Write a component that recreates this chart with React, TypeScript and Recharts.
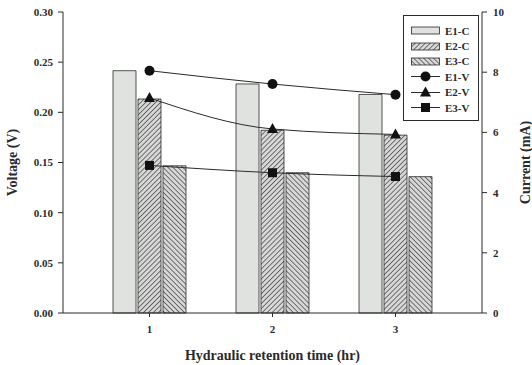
import React from "react";
import { ComposedChart, Bar, Line, XAxis, YAxis, Legend } from "recharts";

const hrt = [1, 2, 3];
const e1Current = [8.05, 7.61, 7.26];
const e2Current = [7.11, 6.07, 5.91];
const e3Current = [4.89, 4.66, 4.53];
const e1Voltage = [0.2415, 0.2282, 0.2176];
const e2Voltage = [0.2143, 0.1834, 0.178];
const e3Voltage = [0.1471, 0.1398, 0.136];
const voltageTicks = [0, 0.05, 0.1, 0.15, 0.2, 0.25, 0.3];
const currentTicks = [0, 2, 4, 6, 8, 10];
const legendLabels = ["E1-C", "E2-C", "E3-C", "E1-V", "E2-V", "E3-V"];

const data = hrt.map((h, i) => ({
  hrt: h,
  e1c: e1Current[i],
  e2c: e2Current[i],
  e3c: e3Current[i],
  e1v: e1Voltage[i],
  e2v: e2Voltage[i],
  e3v: e3Voltage[i],
}));

const FONT = "'Liberation Serif', 'Times New Roman', serif";
const INK = "#2a2a2a";
const LIGHT = "#dfe2df";

const Patterns = ({ prefix }: { prefix: string }) => (
  <defs>
    <pattern id={prefix + "fwd"} patternUnits="userSpaceOnUse" width="3.5" height="3.5" patternTransform="rotate(45)">
      <rect width="3.5" height="3.5" fill="#d8d8d8" />
      <line x1="0" y1="0" x2="0" y2="3.5" stroke="#333" strokeWidth="1.3" />
    </pattern>
    <pattern id={prefix + "back"} patternUnits="userSpaceOnUse" width="3.5" height="3.5" patternTransform="rotate(-45)">
      <rect width="3.5" height="3.5" fill="#d8d8d8" />
      <line x1="0" y1="0" x2="0" y2="3.5" stroke="#333" strokeWidth="1.3" />
    </pattern>
  </defs>
);

const Marker = ({ kind, cx, cy }: { kind: string; cx: number; cy: number }) => {
  if (kind === "circle") return <circle cx={cx} cy={cy} r={5} fill="#111" />;
  if (kind === "triangle")
    return <path d={`M${cx},${cy - 6} L${cx + 5.5},${cy + 4} L${cx - 5.5},${cy + 4} Z`} fill="#111" />;
  return <rect x={cx - 4.5} y={cy - 4.5} width={9} height={9} fill="#111" />;
};

const makeDot = (kind: string) => (props: any) => {
  const { cx, cy, index } = props;
  if (cx == null || cy == null) return <g key={index} />;
  return <Marker key={index} kind={kind} cx={cx} cy={cy} />;
};

const swatchFills = [LIGHT, "url(#lgfwd)", "url(#lgback)"];
const markerKinds = ["circle", "triangle", "square"];

const LegendBox = () => (
  <div
    style={{
      border: `1px solid ${INK}`,
      background: "#fff",
      width: 74,
      padding: "7px 0 5px 0",
      fontFamily: FONT,
      fontWeight: "bold",
      fontSize: 11,
      color: INK,
      boxSizing: "content-box",
    }}
  >
    {legendLabels.map((label, i) => (
      <div key={label} style={{ display: "flex", alignItems: "center", height: 15.4 }}>
        <svg width={40} height={15} style={{ display: "block" }}>
          <Patterns prefix="lg" />
          {i < 3 ? (
            <rect x={7.5} y={4} width={28} height={7} fill={swatchFills[i]} stroke={INK} strokeWidth={0.8} />
          ) : (
            <>
              <line x1={7} x2={36} y1={7.5} y2={7.5} stroke={INK} strokeWidth={1} />
              <Marker kind={markerKinds[i - 3]} cx={21.5} cy={7.5} />
            </>
          )}
        </svg>
        <span style={{ marginLeft: 1 }}>{label}</span>
      </div>
    ))}
  </div>
);

const tickStyle = { fontFamily: FONT, fontWeight: "bold", fontSize: 11, fill: INK };
const titleStyle = { fontFamily: FONT, fontWeight: "bold", fontSize: 14, fill: INK, textAnchor: "middle" as const };

export default function App() {
  return (
    <div style={{ position: "absolute", left: 0, top: 0, background: "#fff" }}>
      <ComposedChart
        width={532}
        height={365}
        data={data}
        margin={{ top: 12, right: 0, left: 0, bottom: 0 }}
        barSize={23}
        barGap={2}
      >
        <Patterns prefix="ch" />
        <XAxis
          dataKey="hrt"
          type="category"
          height={52}
          padding={{ left: 25, right: 25 }}
          stroke={INK}
          tickSize={4}
          tickMargin={8}
          tick={tickStyle}
          label={{ value: "Hydraulic retention time (hr)", position: "insideBottom", offset: 5, style: titleStyle }}
        />
        <XAxis
          xAxisId="top"
          dataKey="hrt"
          orientation="top"
          height={0}
          tick={false}
          tickLine={false}
          stroke={INK}
        />
        <YAxis
          yAxisId="left"
          width={63}
          domain={[0, 0.3]}
          ticks={voltageTicks}
          tickFormatter={(v: number) => v.toFixed(2)}
          stroke={INK}
          tickSize={5}
          tickMargin={5}
          tick={tickStyle}
          interval={0}
          label={{ value: "Voltage (V)", angle: -90, position: "insideLeft", offset: 12, style: titleStyle }}
        />
        <YAxis
          yAxisId="right"
          orientation="right"
          width={50}
          domain={[0, 10]}
          ticks={currentTicks}
          stroke={INK}
          tickSize={5}
          tickMargin={6}
          tick={tickStyle}
          interval={0}
          label={{ value: "Current (mA)", angle: -90, position: "insideRight", offset: 7, style: titleStyle }}
        />
        <Bar yAxisId="right" dataKey="e1c" name="E1-C" fill={LIGHT} stroke={INK} strokeWidth={0.8} isAnimationActive={false} />
        <Bar yAxisId="right" dataKey="e2c" name="E2-C" fill="url(#chfwd)" stroke={INK} strokeWidth={0.8} isAnimationActive={false} />
        <Bar yAxisId="right" dataKey="e3c" name="E3-C" fill="url(#chback)" stroke={INK} strokeWidth={0.8} isAnimationActive={false} />
        <Line yAxisId="left" type="monotone" dataKey="e1v" name="E1-V" stroke={INK} strokeWidth={1} dot={makeDot("circle")} isAnimationActive={false} />
        <Line yAxisId="left" type="monotone" dataKey="e2v" name="E2-V" stroke={INK} strokeWidth={1} dot={makeDot("triangle")} isAnimationActive={false} />
        <Line yAxisId="left" type="monotone" dataKey="e3v" name="E3-V" stroke={INK} strokeWidth={1} dot={makeDot("square")} isAnimationActive={false} />
        <Legend
          layout="vertical"
          align="center"
          verticalAlign="middle"
          wrapperStyle={{ position: "absolute", left: 403, top: 15, width: "auto", height: "auto" }}
          content={() => <LegendBox />}
        />
      </ComposedChart>
    </div>
  );
}
